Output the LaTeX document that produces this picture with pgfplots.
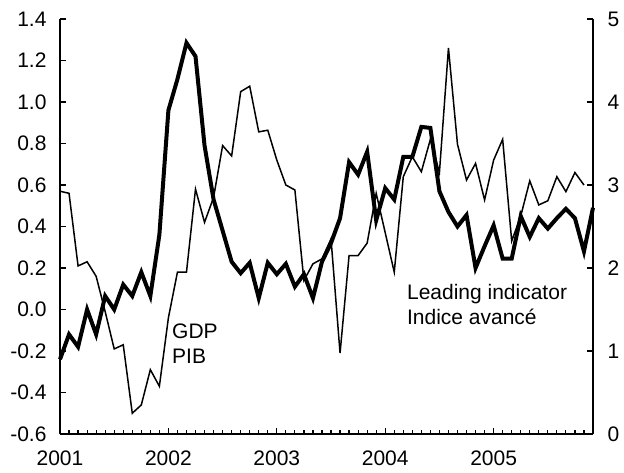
\documentclass[border=0pt]{standalone}
\usepackage{fontspec}
\setmainfont{Liberation Sans}
\usepackage{pgfplots}
\pgfplotsset{compat=1.18}
\usepackage{pgfplotstable}

\newcommand\cf{\fontsize{21}{25}\selectfont}

% thick line, left axis (month index 0 = Jan 2001)
\pgfplotstableread{
m v
0 -0.24
1 -0.12
2 -0.18
3 0.00
4 -0.12
5 0.065
6 0.00
7 0.12
8 0.065
9 0.18
10 0.065
11 0.36
12 0.96
13 1.11
14 1.285
15 1.22
16 0.79
17 0.53
18 0.38
19 0.23
20 0.175
21 0.225
22 0.055
23 0.225
24 0.17
25 0.22
26 0.11
27 0.17
28 0.055
29 0.23
30 0.32
31 0.44
32 0.71
33 0.65
34 0.76
35 0.43
36 0.585
37 0.53
38 0.735
39 0.735
40 0.88
41 0.875
42 0.57
43 0.47
44 0.40
45 0.455
46 0.20
47 0.305
48 0.405
49 0.245
50 0.245
51 0.45
52 0.35
53 0.44
54 0.39
55 0.44
56 0.485
57 0.44
58 0.28
59 0.49
}\lead

% thin line, right axis
\pgfplotstableread{
m v
0 2.925
1 2.90
2 2.025
3 2.075
4 1.90
5 1.475
6 1.025
7 1.075
8 0.25
9 0.35
10 0.775
11 0.575
12 1.40
13 1.95
14 1.95
15 2.95
16 2.55
17 2.85
18 3.475
19 3.35
20 4.125
21 4.19
22 3.64
23 3.66
24 3.30
25 3.00
26 2.94
27 1.85
28 2.05
29 2.11
30 2.35
31 0.975
32 2.15
33 2.15
34 2.30
35 2.90
36 2.425
37 1.95
38 3.10
39 3.34
40 3.16
41 3.55
42 3.15
43 4.65
44 3.49
45 3.06
46 3.26
47 2.82
48 3.30
49 3.55
50 2.325
51 2.625
52 3.05
53 2.76
54 2.81
55 3.10
56 2.92
57 3.15
58 3.00
}\gdp

\pgfplotsset{
  common/.style={
    width=533pt, height=415pt, scale only axis,
    xmin=0, xmax=59,
    xtick={0,12,24,36,48},
    xticklabels={2001,2002,2003,2004,2005},
    minor xtick={0,...,59},
    tick label style={font=\cf},
    /pgf/number format/assume math mode=true,
    major tick length=6pt, minor tick length=4pt,
    axis line style={line width=1.5pt},
    tick style={line width=1.2pt, black},
  }
}

\begin{document}
\begin{tikzpicture}
\path (-60pt,-39pt) rectangle (564pt,434pt);
\begin{axis}[common,
  axis y line*=left, axis x line*=bottom,
  ymin=-0.6, ymax=1.4,
  ytick={-0.6,-0.4,-0.2,0,0.2,0.4,0.6,0.8,1.0,1.2,1.4},
  yticklabel style={/pgf/number format/fixed, /pgf/number format/fixed zerofill,
    /pgf/number format/precision=1, xshift=-10pt},
  xticklabel style={yshift=-13pt},
  clip=false,
]
\addplot[black, line width=4pt] table[x=m,y=v]{\lead};
\node[anchor=west, align=left, font=\cf, inner sep=0pt] at (axis cs:12.4,-0.166) {GDP\\PIB};
\node[anchor=west, align=left, font=\cf, inner sep=0pt] at (axis cs:38.4,0.024) {Leading indicator\\Indice avancé};
\end{axis}
\begin{axis}[common,
  axis y line*=right, axis x line=none,
  ymin=0, ymax=5, ytick={0,1,2,3,4,5},
  yticklabel style={xshift=11pt},
  clip=false,
]
\addplot[black, line width=1.5pt] table[x=m,y=v]{\gdp};
\end{axis}
\end{tikzpicture}
\end{document}
